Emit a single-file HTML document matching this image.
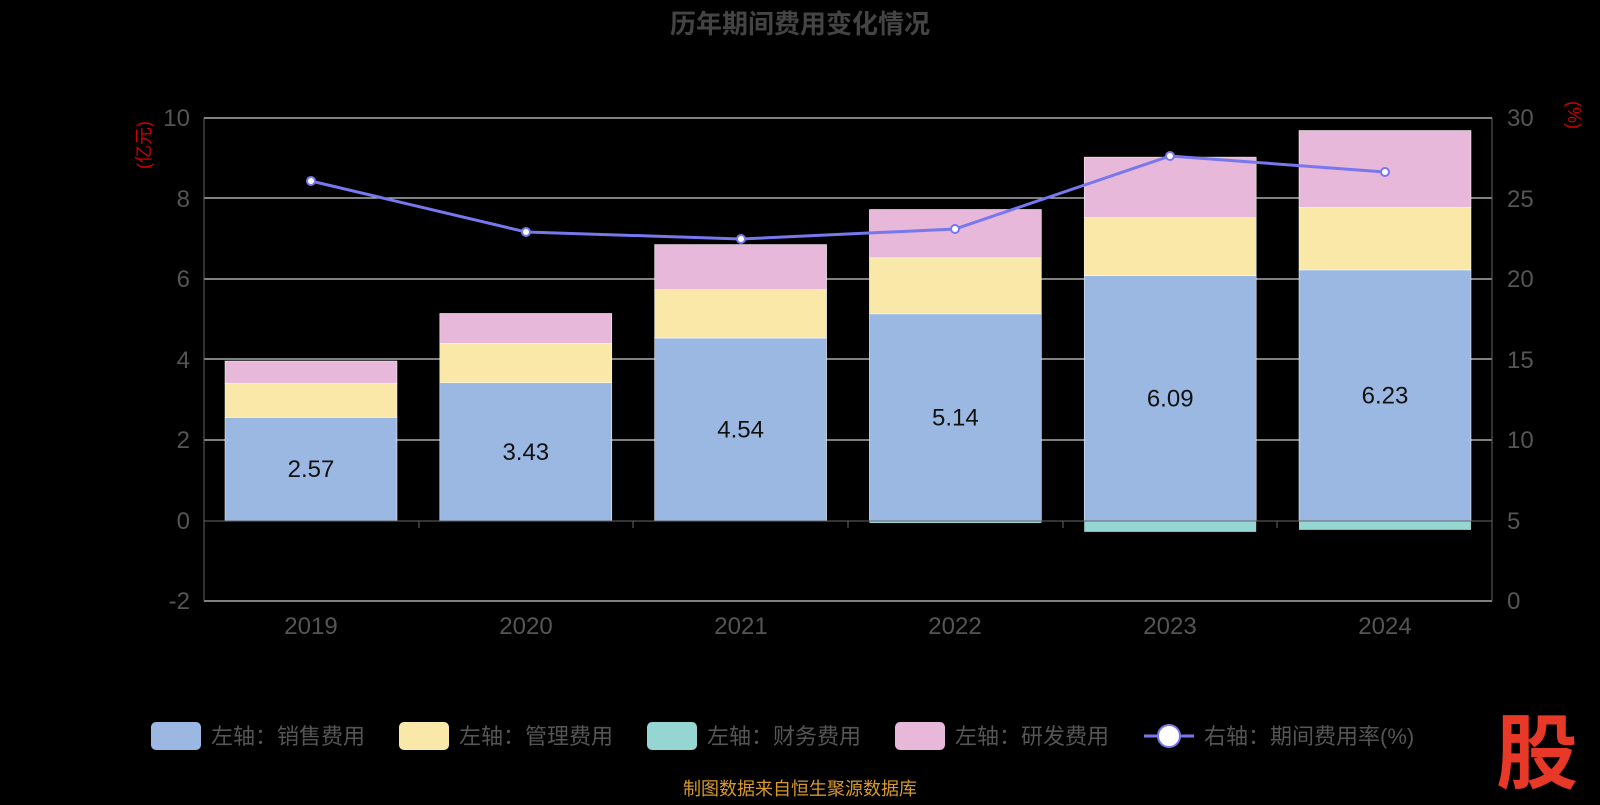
<!DOCTYPE html>
<html><head><meta charset="utf-8"><style>
body{margin:0;background:#000;}
svg text{font-family:"Liberation Sans","Noto Sans CJK SC",sans-serif;}
</style></head><body>
<svg width="1600" height="800" viewBox="0 0 1600 800" xmlns="http://www.w3.org/2000/svg">
<rect width="1600" height="800" fill="#000"/>
<text x="800" y="33" text-anchor="middle" font-size="26" font-weight="bold" fill="#444">历年期间费用变化情况</text>
<g stroke="#ccc" stroke-width="1.3">
<line x1="204" y1="118" x2="1492" y2="118"/>
<line x1="204" y1="198" x2="1492" y2="198"/>
<line x1="204" y1="279" x2="1492" y2="279"/>
<line x1="204" y1="359" x2="1492" y2="359"/>
<line x1="204" y1="440" x2="1492" y2="440"/>
<line x1="204" y1="601" x2="1492" y2="601"/>
</g>
<line x1="204" y1="118" x2="204" y2="601" stroke="#666"/>
<line x1="1492" y1="118" x2="1492" y2="601" stroke="#666"/>
<g fill="#555" font-size="24" text-anchor="end">
<text x="190" y="126">10</text><text x="190" y="207">8</text><text x="190" y="287">6</text>
<text x="190" y="368">4</text><text x="190" y="448">2</text><text x="190" y="529">0</text><text x="190" y="609">-2</text>
</g>
<g fill="#555" font-size="24" text-anchor="start">
<text x="1507" y="126">30</text><text x="1507" y="207">25</text><text x="1507" y="287">20</text>
<text x="1507" y="368">15</text><text x="1507" y="448">10</text><text x="1507" y="529">5</text><text x="1507" y="609">0</text>
</g>
<text transform="translate(150,145) rotate(-90)" text-anchor="middle" font-size="18" fill="#c00">(亿元)</text>
<text transform="translate(1568,115) rotate(90)" text-anchor="middle" font-size="18" fill="#c00">(%)</text>
<g id="bars"></g>
<line x1="204" y1="521" x2="1492" y2="521" stroke="#666"/>
<g stroke="#666"><line x1="419" y1="521" x2="419" y2="528"/><line x1="633" y1="521" x2="633" y2="528"/><line x1="848" y1="521" x2="848" y2="528"/><line x1="1063" y1="521" x2="1063" y2="528"/><line x1="1277" y1="521" x2="1277" y2="528"/></g>
<g fill="#555" font-size="24" text-anchor="middle">
<text x="311" y="634">2019</text><text x="526" y="634">2020</text><text x="741" y="634">2021</text>
<text x="955" y="634">2022</text><text x="1170" y="634">2023</text><text x="1385" y="634">2024</text>
</g>
<polyline fill="none" stroke="#7777ee" stroke-width="3" points="311,181 526,232 741,239 955,229 1170,156 1385,172"/>
<g fill="#fff" stroke="#7777ee" stroke-width="2">
<circle cx="311" cy="181" r="4"/><circle cx="526" cy="232" r="4"/><circle cx="741" cy="239" r="4"/><circle cx="955" cy="229" r="4"/><circle cx="1170" cy="156" r="4"/><circle cx="1385" cy="172" r="4"/>
</g>
<g font-size="22">
<rect x="151" y="722" width="50" height="28" rx="5" fill="#9bb8e2"/><text x="211" y="744" fill="#555">左轴：销售费用</text>
<rect x="399" y="722" width="50" height="28" rx="5" fill="#f9e8a8"/><text x="459" y="744" fill="#555">左轴：管理费用</text>
<rect x="647" y="722" width="50" height="28" rx="5" fill="#95d5d2"/><text x="707" y="744" fill="#555">左轴：财务费用</text>
<rect x="895" y="722" width="50" height="28" rx="5" fill="#e8b8da"/><text x="955" y="744" fill="#555">左轴：研发费用</text>
<line x1="1144" y1="736" x2="1194" y2="736" stroke="#7777ee" stroke-width="3"/><circle cx="1169" cy="736" r="11" fill="#fff" stroke="#7777ee" stroke-width="2"/>
<text x="1204" y="744" fill="#555">右轴：期间费用率(%)</text>
</g>
<text x="800" y="795" text-anchor="middle" font-size="18" fill="#d89a2a">制图数据来自恒生聚源数据库</text>
<text x="1537" y="782" text-anchor="middle" font-size="82" font-weight="bold" fill="#e83828">股</text>
</svg>
<script>
var d=[[2.57,0.85,0.55,0.01],[3.43,0.98,0.74,0.01],[4.54,1.2,1.12,0],[5.14,1.39,1.2,-0.05],[6.09,1.44,1.5,-0.27],[6.23,1.55,1.91,-0.22]];
var g=document.getElementById('bars'),s='';
function Y(v){return 521-v*40.3;}
var cols=['#9bb8e2','#f9e8a8','#e8b8da'];
d.forEach(function(r,i){var x=311+i*214.8-86,acc=0;
[0,1,2].forEach(function(k){var v=r[k];s+='<rect x="'+x+'" y="'+Y(acc+v)+'" width="172" height="'+(v*40.3)+'" fill="'+cols[k]+'" stroke="#fff" stroke-width="0.5"/>';acc+=v;});
if(r[3]<0)s+='<rect x="'+x+'" y="521" width="172" height="'+(-r[3]*40.3)+'" fill="#95d5d2"/>';
s+='<text x="'+(x+86)+'" y="'+(Y(r[0]/2)+8)+'" text-anchor="middle" font-size="24" fill="#111">'+r[0].toFixed(2)+'</text>';});
g.innerHTML=s;
</script>
</body></html>
